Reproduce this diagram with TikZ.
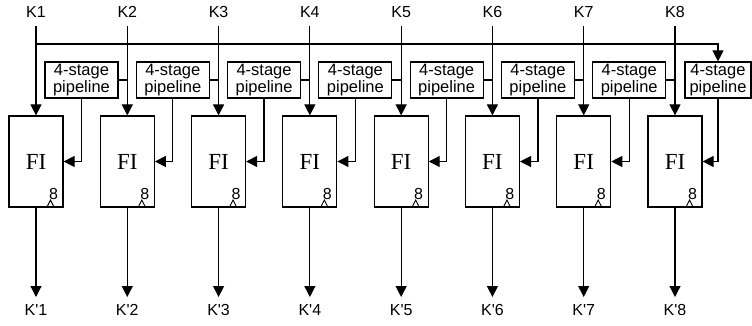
\documentclass[tikz,border=0pt]{standalone}
\usepackage{fontspec}
\setmainfont{Liberation Sans}
\newfontfamily\fiserif{Liberation Serif}
\usetikzlibrary{arrows.meta}
\begin{document}
\begin{tikzpicture}[x=1pt,y=-1pt, line width=1.2pt,
  >={Triangle[length=11pt,width=11pt]},
  lbl/.style={font=\fontsize{16}{18}\selectfont, inner sep=0pt},
  pipe/.style={draw, font=\fontsize{16.5}{17}\selectfont, align=center, inner sep=0pt, minimum width=73pt, minimum height=36pt},
  fibox/.style={draw, minimum width=54pt, minimum height=91pt, inner sep=0pt, font=\fiserif\fontsize{23}{23}\selectfont},
  clk/.style={line width=0.9pt},
 ]
\useasboundingbox (0,0) rectangle (752,326);
\foreach \i in {1,...,8} {
  \pgfmathsetmacro\kx{36+(\i-1)*91.286}
  \node[lbl] (k\i) at (\kx,12) {K\i};
  \coordinate (kt\i) at (\kx,26);
  \coordinate (tap\i) at (\kx,80);
  \node[fibox] (fi\i) at (\kx,161.5) {FI};
  \node[lbl] (n\i) at (\kx+17.5,194) {8};
  \coordinate (c\i) at (\kx+14.5,207);
  \draw[clk] ([xshift=-3.5pt]c\i) -- ([yshift=7pt]c\i) -- ([xshift=3.5pt]c\i);
  \node[lbl] (ko\i) at (\kx,310) {K\textquotesingle\i};
  \coordinate (oe\i) at (\kx,297);
  \draw[->] (kt\i) -- (fi\i.north);
  \draw[->] (fi\i.south) -- (oe\i);
}
\foreach \i in {1,...,7} {
  \pgfmathsetmacro\px{36+(\i-1)*91.286+45.5}
  \node[pipe] (p\i) at (\px,80) {4-stage\\pipeline};
}
\node[pipe, minimum width=66pt] (p8) at (718,80) {4-stage\\pipeline};
\foreach \i/\j in {1/2,2/3,3/4,4/5,5/6,6/7,7/8} {
  \draw (p\i.east) -- (tap\j);
}
\foreach \i in {1,...,8} {
  \draw[->] (p\i.south) |- (fi\i.east);
}
\coordinate (bus1) at (36,44);
\draw[->] (bus1) -| (p8.north);
\end{tikzpicture}
\end{document}
